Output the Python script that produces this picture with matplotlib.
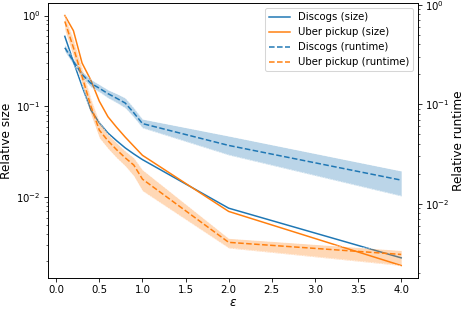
import matplotlib
matplotlib.use("Agg")
import matplotlib.pyplot as plt
import numpy as np

eps = [0.1, 0.2, 0.3, 0.4, 0.5, 0.6, 0.7, 0.8, 0.9, 1.0, 2.0, 4.0]

discogs_size = [0.59, 0.31, 0.167, 0.092, 0.066, 0.051, 0.042, 0.035, 0.030, 0.026, 0.0076, 0.00216]
uber_size = [1.0, 0.68, 0.30, 0.196, 0.114, 0.077, 0.059, 0.046, 0.0365, 0.029, 0.0070, 0.00178]

discogs_rt = [0.37, 0.27, 0.20, 0.163, 0.145, 0.128, 0.115, 0.103, 0.082, 0.064, 0.0386, 0.0173]
discogs_rt_lo = [0.34, 0.25, 0.185, 0.150, 0.133, 0.116, 0.104, 0.092, 0.074, 0.058, 0.031, 0.012]
discogs_rt_hi = [0.40, 0.29, 0.215, 0.178, 0.158, 0.140, 0.128, 0.116, 0.092, 0.071, 0.048, 0.0214]

uber_rt = [0.68, 0.37, 0.19, 0.097, 0.055, 0.043, 0.035, 0.029, 0.0245, 0.0177, 0.0041, 0.0031]
uber_rt_lo = [0.56, 0.30, 0.16, 0.080, 0.046, 0.036, 0.029, 0.024, 0.019, 0.0135, 0.0036, 0.0024]
uber_rt_hi = [0.78, 0.45, 0.23, 0.115, 0.066, 0.050, 0.041, 0.034, 0.029, 0.022, 0.0045, 0.0034]

blue = "#1f77b4"
orange = "#ff7f0e"

fig = plt.figure(figsize=(6.4, 310 / 72.5), dpi=72.5)
ax = fig.add_axes([48 / 464, 32 / 310, 370 / 464, 275 / 310])
ax2 = ax.twinx()

l1, = ax.plot(eps, discogs_size, color=blue, lw=1.5, label="Discogs (size)")
l2, = ax.plot(eps, uber_size, color=orange, lw=1.5, label="Uber pickup (size)")

ax2.fill_between(eps, discogs_rt_lo, discogs_rt_hi, color=blue, alpha=0.3, linewidth=0)
ax2.fill_between(eps, uber_rt_lo, uber_rt_hi, color=orange, alpha=0.3, linewidth=0)
for lo, hi in [(discogs_rt_lo, discogs_rt_hi), (uber_rt_lo, uber_rt_hi)]:
    ax2.plot(eps, lo, color="white", lw=0.5, ls="--", alpha=0.9)
    ax2.plot(eps, hi, color="white", lw=0.5, ls="--", alpha=0.9)
l3, = ax2.plot(eps, discogs_rt, color=blue, lw=1.5, ls="--", label="Discogs (runtime)")
l4, = ax2.plot(eps, uber_rt, color=orange, lw=1.5, ls="--", label="Uber pickup (runtime)")

ax.set_yscale("log")
ax2.set_yscale("log")
ax.set_xlabel(r"$\epsilon$", fontsize=12, labelpad=1)
ax.set_ylabel("Relative size", fontsize=12, labelpad=3)
ax2.set_ylabel("Relative runtime", fontsize=12, labelpad=2)
ax.set_xticks([0.0, 0.5, 1.0, 1.5, 2.0, 2.5, 3.0, 3.5, 4.0])

ax2.legend(handles=[l1, l2, l3, l4], loc="upper right")

fig.savefig("out.png", dpi=72.5)
